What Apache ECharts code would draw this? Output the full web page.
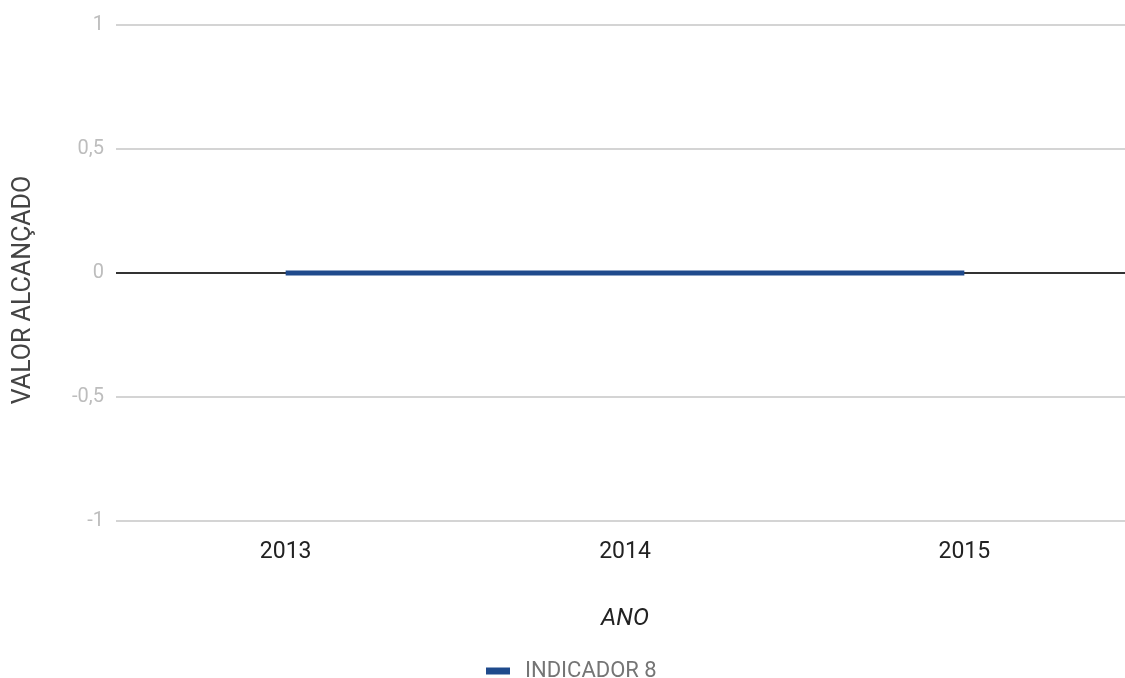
<!DOCTYPE html>
<html><head><meta charset="utf-8">
<script src="https://cdn.jsdelivr.net/npm/echarts@6/dist/echarts.min.js"></script>
<style>html,body{margin:0;padding:0;background:#fff;overflow:hidden}#c{width:1134px;height:678px}</style>
</head><body><div id="c"></div>
<script>
const categories = ['2013', '2014', '2015'];
const seriesName = 'INDICADOR 8';
const values = [0, 0, 0];
const yTicks = [-1, -0.5, 0, 0.5, 1];

const chart = echarts.init(document.getElementById('c'));
chart.setOption({
  animation: false,
  textStyle: { fontFamily: 'Roboto' },
  grid: { left: 116, right: 0, top: 25, bottom: 157, containLabel: false },
  legend: {
    left: 481, top: 655,
    icon: 'rect', itemWidth: 24, itemHeight: 7, itemGap: 10,
    textStyle: { color: '#757575', fontSize: 22, fontFamily: 'Roboto', padding: [0, 0, 0, 10] },
    data: [seriesName]
  },
  xAxis: {
    type: 'category', data: categories, boundaryGap: true,
    axisLine: { show: false }, axisTick: { show: false },
    axisLabel: { color: '#222', fontSize: 23, margin: 20 },
    name: 'ANO', nameLocation: 'middle', nameGap: 86,
    nameTextStyle: { color: '#222', fontSize: 24, fontStyle: 'italic' }
  },
  yAxis: {
    type: 'value', min: -1, max: 1, interval: 0.5,
    axisLine: { show: false }, axisTick: { show: false },
    axisLabel: { color: '#bdbdbd', fontSize: 20, margin: 12,
      formatter: v => String(v).replace('.', ',') },
    splitLine: { lineStyle: { width: 2,
      color: yTicks.map(t => t === 0 ? '#333333' : '#d4d4d4') } },
    name: 'VALOR ALCANÇADO', nameLocation: 'middle', nameGap: 80,
    nameTextStyle: { color: '#444', fontSize: 25, padding: [0, 0, 0, -34] }
  },
  series: [{
    name: seriesName, type: 'line', data: values,
    symbol: 'none', showSymbol: false,
    lineStyle: { color: '#1f4a8c', width: 5 },
    itemStyle: { color: '#1f4a8c' }
  }]
});
</script></body></html>
